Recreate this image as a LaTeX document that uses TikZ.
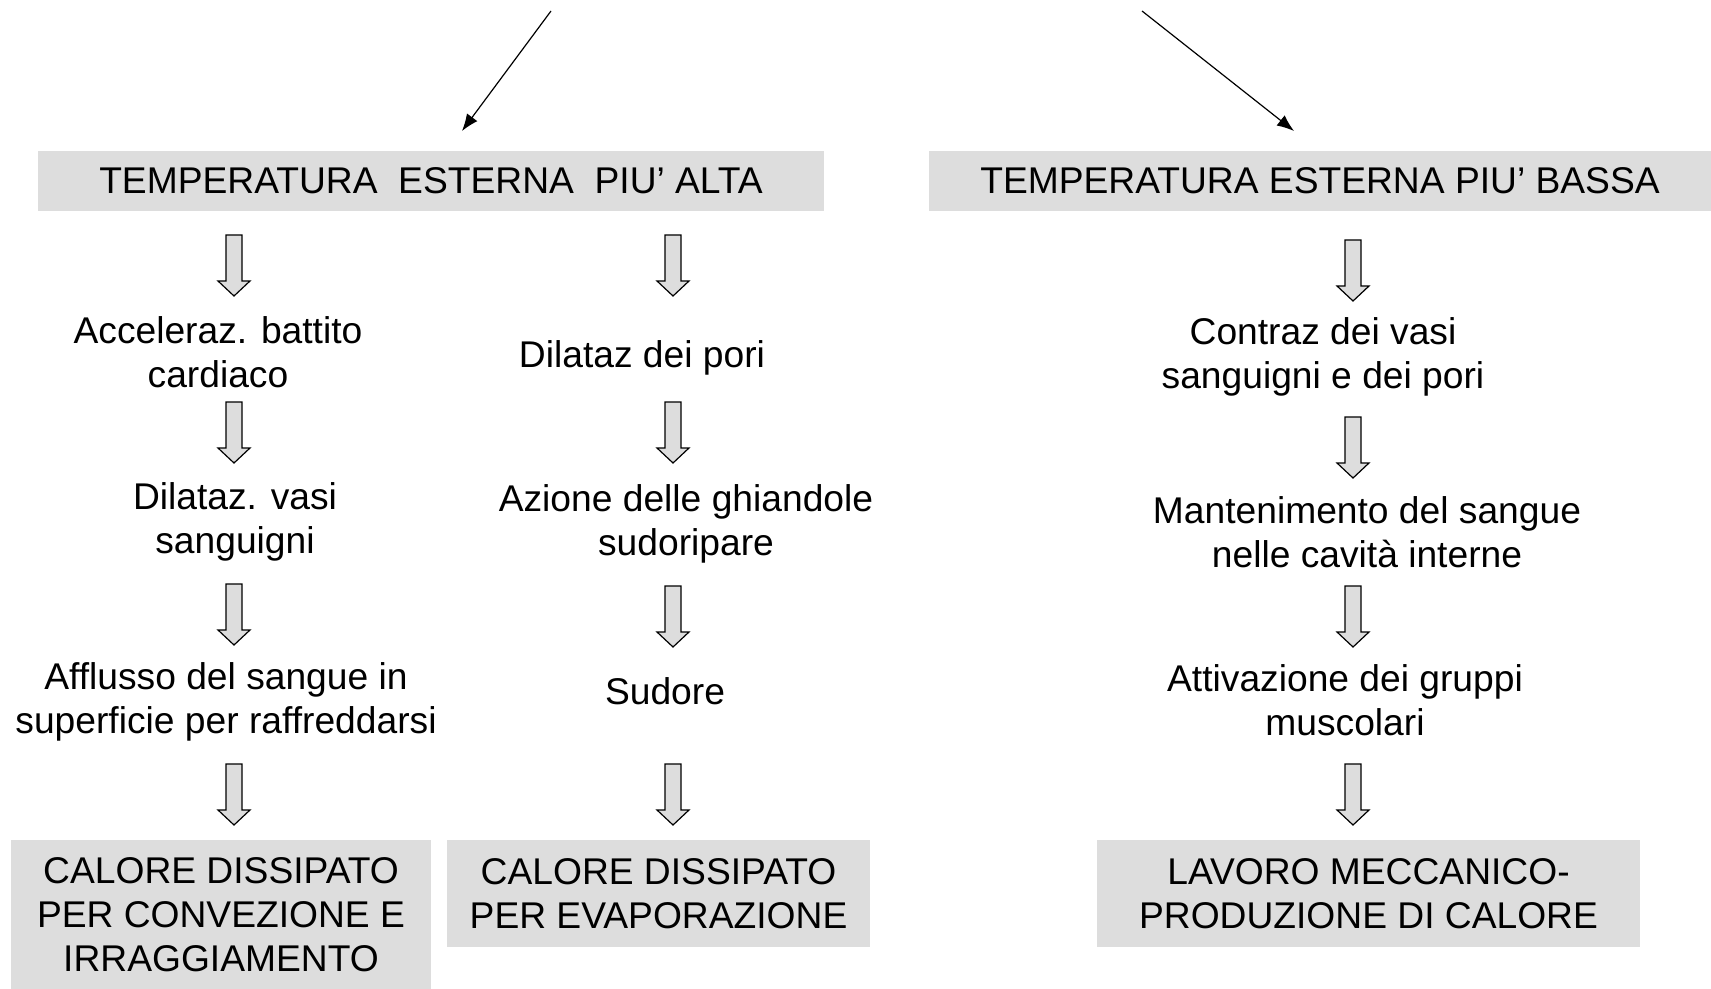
\documentclass[tikz,border=0pt]{standalone}
\usepackage{fontspec}
\setmainfont{Liberation Sans}
\usepackage{tikz}
\usetikzlibrary{arrows.meta,positioning}
\definecolor{grigio}{RGB}{221,221,221}
\tikzset{
testo/.style = {align=center, inner sep=0pt, text centered,
font=\fontsize{18.6}{22}\selectfont},
riquadro/.style = {testo, rectangle, fill=grigio},% riquadro grigio
riq_alto/.style = {riquadro, minimum height=30pt},% riquadro temperatura
riq_basso/.style = {riquadro, minimum height=53.5pt},% riquadro calore
freccia/.pic = {\draw[fill=grigio, line width=0.6pt] (-8,0) -- (8,0) -- (8,46) -- (16,46) -- (0,61) -- (-16,46) -- (-8,46) -- cycle;}% freccia grigia
}
\begin{document}
\begin{tikzpicture}[x=0.5pt, y=-0.5pt]
	\useasboundingbox (0,0) rectangle (1711,989);
	% temperature
	\node [riq_alto, minimum width=393pt] (alta) at (431,181) {TEMPERATURA~ ESTERNA~ PIU’ ALTA};
	\node [riq_alto, minimum width=391pt] (bassa) at (1320,181) {TEMPERATURA ESTERNA PIU’ BASSA};
	\coordinate (inizio_a) at (551,11);
	\coordinate (fine_a) at (462,131);
	\coordinate (inizio_b) at (1142,11);
	\coordinate (fine_b) at (1294,131);
	\draw [line width=0.6pt, -{Latex[length=8.5pt,width=6.5pt]}] (inizio_a) -- (fine_a);
	\draw [line width=0.6pt, -{Latex[length=8.5pt,width=6.5pt]}] (inizio_b) -- (fine_b);
	% colonna 1
	\node [testo] (accel) at (218,352) {Acceleraz. battito\\cardiaco};
	\node [testo] (vasi) at (235,522) {Dilataz. vasi\\sanguigni};
	\node [testo] (afflusso) at (226,702) {Afflusso del sangue in\\superficie per raffreddarsi};
	\node [riq_basso, minimum width=210pt, minimum height=74.5pt] (convez) at (221,914.5) {CALORE DISSIPATO\\PER CONVEZIONE E\\IRRAGGIAMENTO};
	% colonna 2
	\node [testo] (pori) at (642,358) {Dilataz dei pori};
	\node [testo] (ghiand) at (686,524) {Azione delle ghiandole\\sudoripare};
	\node [testo] (sudore) at (665,691) {Sudore};
	\node [riq_basso, minimum width=211.5pt] (evapor) at (658.5,893.5) {CALORE DISSIPATO\\PER EVAPORAZIONE};
	% colonna 3
	\node [testo] (contraz) at (1323,357) {Contraz dei vasi\\sanguigni e dei pori};
	\node [testo] (manten) at (1367,532) {Mantenimento del sangue\\nelle cavità interne};
	\node [testo] (attiv) at (1345,700) {Attivazione dei gruppi\\muscolari};
	\node [riq_basso, minimum width=271.5pt] (lavoro) at (1368.5,893.5) {LAVORO MECCANICO-\\PRODUZIONE DI CALORE};
	% frecce grigie
	\foreach \y in {235,402,584,764} \pic at (234,\y) {freccia};
	\foreach \y in {235,402,586,764} \pic at (673,\y) {freccia};
	\foreach \y in {240,417,586,764} \pic at (1353,\y) {freccia};
\end{tikzpicture}
\end{document}
